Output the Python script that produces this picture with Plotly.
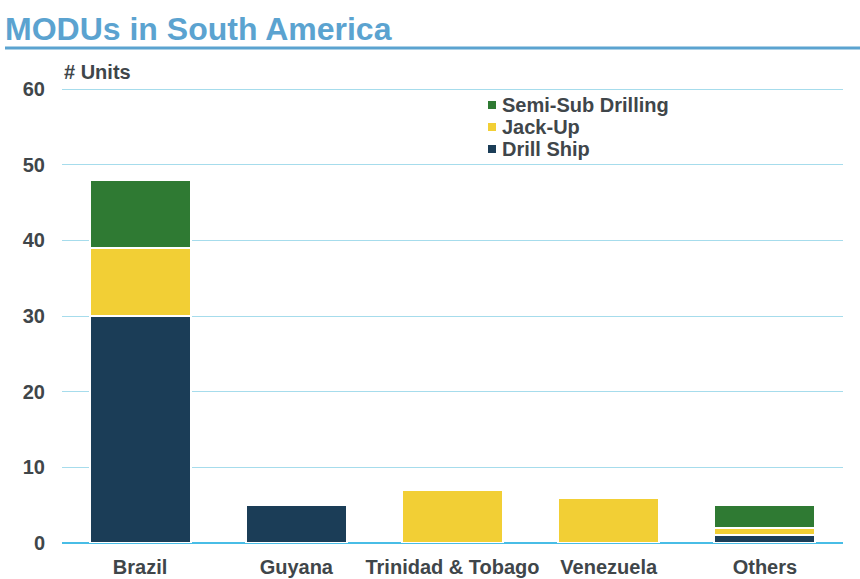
import plotly.graph_objects as go

categories = ["Brazil", "Guyana", "Trinidad & Tobago", "Venezuela", "Others"]
drill_ship = [30, 5, 0, 0, 1]
jack_up = [9, 0, 7, 6, 1]
semi_sub = [9, 0, 0, 0, 3]
series_names = ["Drill Ship", "Jack-Up", "Semi-Sub Drilling"]
series_colors = ["#1B3D57", "#F2CF35", "#2F7A33"]
y_ticks = [0, 10, 20, 30, 40, 50, 60]

W, H = 860, 579
L, R, T, B = 62, 17, 85, 36
pw, ph = W - L - R, H - T - B

def px(x):
    return (x - L) / pw

def py(y):
    return (H - B - y) / ph

TXT = "#3F464A"
FONT = "Liberation Sans, Arial, sans-serif"
FS = 20

fig = go.Figure()
for name, vals, col in zip(series_names, [drill_ship, jack_up, semi_sub], series_colors):
    fig.add_trace(go.Bar(
        x=categories, y=vals, name=name, showlegend=False,
        marker=dict(color=col, line=dict(color="white", width=2)),
    ))

shapes = [
    dict(type="line", xref="paper", yref="paper", x0=px(5), x1=px(860),
         y0=py(48), y1=py(48), line=dict(color="#5BA3D0", width=3)),
]
annotations = [
    dict(text="<b># Units</b>", xref="paper", yref="paper", x=px(62), y=py(72),
         xanchor="left", yanchor="middle", showarrow=False,
         font=dict(size=FS, color=TXT, family=FONT)),
]
# legend (top to bottom: Semi-Sub, Jack-Up, Drill Ship)
leg_rows = [105, 127, 149]
for i, (name, col) in enumerate(zip(series_names[::-1], series_colors[::-1])):
    yc = leg_rows[i]
    shapes.append(dict(type="rect", xref="paper", yref="paper",
                       x0=px(488), x1=px(496), y0=py(yc + 4), y1=py(yc - 4),
                       fillcolor=col, line=dict(width=0)))
    annotations.append(dict(text="<b>" + name + "</b>", xref="paper", yref="paper",
                            x=px(500), y=py(yc), xanchor="left", yanchor="middle",
                            showarrow=False, font=dict(size=FS, color=TXT, family=FONT)))

fig.update_layout(
    width=W, height=H,
    margin=dict(l=L, r=R, t=T, b=B),
    barmode="stack", bargap=0.353,
    plot_bgcolor="white", paper_bgcolor="white",
    font=dict(family=FONT, size=FS, color=TXT),
    title=dict(text="<b>MODUs in South America</b>", x=5 / W, xref="container",
               xanchor="left", y=1 - 29 / H, yref="container", yanchor="middle",
               font=dict(size=32, color="#5BA3D0", family=FONT)),
    xaxis=dict(showgrid=False, showline=False, ticks="", automargin=False,
               tickfont=dict(size=FS, color=TXT, family=FONT),
               ticklabelstandoff=10),
    yaxis=dict(range=[0, 60.53], tickvals=y_ticks, ticktext=["<b>%d</b>" % v for v in y_ticks],
               showgrid=True, gridcolor="#A6DCEC", gridwidth=1, automargin=False,
               zeroline=True, zerolinecolor="#48BDE6", zerolinewidth=2,
               showline=False, ticks="", ticklabelstandoff=16,
               tickfont=dict(size=FS, color=TXT, family=FONT)),
    shapes=shapes, annotations=annotations,
)
fig.update_xaxes(ticktext=["<b>%s</b>" % c for c in categories], tickvals=categories)

fig.write_html("out.html")
